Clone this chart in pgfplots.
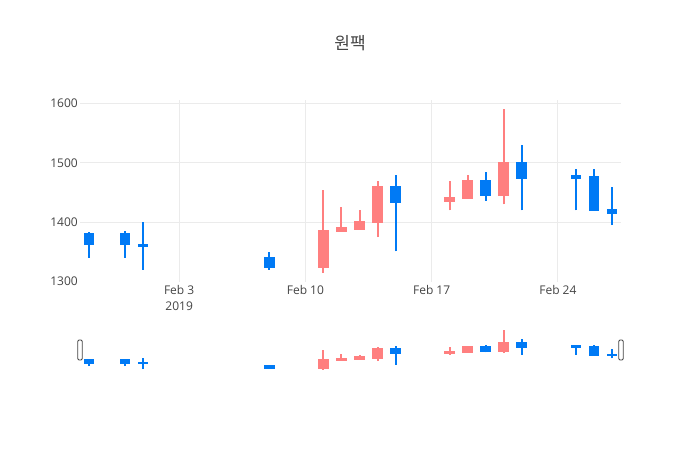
\documentclass[border=0pt]{standalone}
\usepackage{fontspec}
\setmainfont{Open Sans}
\newfontfamily\cjk{Noto Sans CJK KR}
\usepackage{pgfplots}
\usepackage{pgfplotstable}
\pgfplotsset{compat=1.18}
\definecolor{incr}{RGB}{255,127,127}
\definecolor{decr}{RGB}{0,122,245}
\definecolor{gridgray}{RGB}{235,235,235}
\definecolor{textgray}{RGB}{68,68,68}

\pgfplotstableread{
x o h l c
-2 1381 1384 1340 1363
0 1380 1385 1340 1363
1 1361 1400 1320 1360
8 1340 1350 1320 1325
11 1325 1455 1315 1386
12 1385 1425 1384 1391
13 1389 1420 1389 1401
14 1400 1470 1375 1460
15 1460 1480 1351 1434
18 1435 1470 1420 1441
19 1440 1480 1440 1470
20 1470 1485 1436 1445
21 1445 1590 1430 1500
22 1500 1530 1420 1475
25 1477 1490 1420 1475
26 1476 1490 1420 1420
27 1421 1460 1395 1415
}\ohlc

\newcommand\drawcandles{%
  \pgfplotstablegetrowsof{\ohlc}%
  \pgfmathtruncatemacro\lastrow{\pgfplotsretval-1}%
  \pgfplotsforeachungrouped \ci in {0,...,\lastrow}{%
    \pgfplotstablegetelem{\ci}{x}\of\ohlc \let\cx\pgfplotsretval
    \pgfplotstablegetelem{\ci}{o}\of\ohlc \let\co\pgfplotsretval
    \pgfplotstablegetelem{\ci}{h}\of\ohlc \let\ch\pgfplotsretval
    \pgfplotstablegetelem{\ci}{l}\of\ohlc \let\cl\pgfplotsretval
    \pgfplotstablegetelem{\ci}{c}\of\ohlc \let\cc\pgfplotsretval
    \pgfmathsetmacro\xa{\cx-0.24}%
    \pgfmathsetmacro\xb{\cx+0.24}%
    \pgfmathtruncatemacro\up{\cc>=\co ? 1 : 0}%
    \ifnum\up=1 \def\col{incr}\else\def\col{decr}\fi
    \edef\tmp{%
      \noexpand\addplot[draw=\col, line width=2pt, forget plot] coordinates {(\cx,\cl) (\cx,\ch)};
      \noexpand\addplot[draw=\col, fill=\col, line width=2pt, forget plot] coordinates {(\xa,\co) (\xb,\co) (\xb,\cc) (\xa,\cc)} -- cycle;
    }\tmp
  }%
}

\begin{document}
\begin{tikzpicture}
\path[use as bounding box] (0,0) rectangle (700pt,450pt);
\node[text=textgray, font=\cjk\fontsize{17}{20}\selectfont] at (350pt,407pt) {원팩};
\begin{axis}[
  at={(80pt,168pt)}, anchor=south west,
  width=541pt, height=182pt, scale only axis,
  xmin=-2.5, xmax=27.5, ymin=1299.5, ymax=1605.5,
  axis line style={draw=none},
  major tick length=0pt,
  grid=major, major grid style={gridgray, line width=1pt},
  ytick={1400,1500,1600}, extra y ticks={1300}, extra y tick style={grid=none},
  xtick={3,10,17,24},
  xticklabels={{Feb 3\\2019},{Feb 10},{Feb 17},{Feb 24}},
  /pgf/number format/assume math mode=true,
  /pgf/number format/1000 sep={},
  tick label style={text=textgray, font=\fontsize{12}{16}\selectfont},
  yticklabel style={anchor=east, inner sep=0pt, xshift=-2pt},
  xticklabel style={anchor=north, inner sep=0pt, yshift=-3pt, align=center},
  clip=true,
]
\drawcandles
\end{axis}
\begin{axis}[
  at={(80pt,78pt)}, anchor=south west,
  width=541pt, height=44pt, scale only axis,
  xmin=-2.5, xmax=27.5, ymin=1299.5, ymax=1605.5,
  hide axis, clip=false,
]
\drawcandles
\draw[fill=white, draw=textgray, line width=0.8pt, rounded corners=1.2pt]
  ([xshift=-2.2pt,yshift=-10pt]axis description cs:0,0.5) rectangle ([xshift=2.2pt,yshift=10pt]axis description cs:0,0.5);
\draw[fill=white, draw=textgray, line width=0.8pt, rounded corners=1.2pt]
  ([xshift=-2.2pt,yshift=-10pt]axis description cs:1,0.5) rectangle ([xshift=2.2pt,yshift=10pt]axis description cs:1,0.5);
\end{axis}
\end{tikzpicture}
\end{document}
